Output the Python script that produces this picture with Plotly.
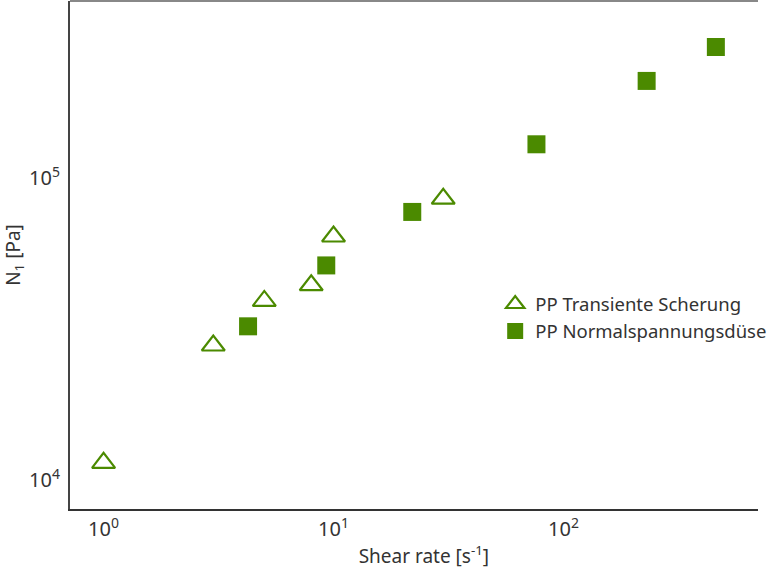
import plotly.graph_objects as go

# Data
trans_x = [1.0, 3.0, 5.0, 8.0, 10.0, 30.0]
trans_y = [11400, 27900, 39200, 44200, 64100, 85500]
duese_x = [4.25, 9.3, 22.0, 76.3, 230.0, 460.0]
duese_y = [32300, 51400, 77300, 129500, 210000, 272000]

x_tickvals = [1, 10, 100]
x_ticktext = ["10<sup>0</sup>", "10<sup>1</sup>", "10<sup>2</sup>"]
y_tickvals = [1e4, 1e5]
y_ticktext = ["10<sup>4</sup>", "10<sup>5</sup>"]

green = "#4b8a00"
font = "Noto Sans, Open Sans, sans-serif"

fig = go.Figure()
fig.add_trace(go.Scatter(
    x=trans_x, y=trans_y, mode="markers", name="PP Transiente Scherung",
    marker=dict(symbol="triangle-up-open", size=20, color=green,
                line=dict(width=2.2, color=green)),
))
fig.add_trace(go.Scatter(
    x=duese_x, y=duese_y, mode="markers", name="PP Normalspannungsdüse",
    marker=dict(symbol="square", size=18, color=green, line=dict(width=0)),
))

fig.update_layout(
    width=768, height=569,
    margin=dict(l=70, r=10, t=1, b=60, autoexpand=False),
    paper_bgcolor="white", plot_bgcolor="white",
    font=dict(family=font, size=19, color="#333333"),
    showlegend=True,
    legend=dict(x=0.618, y=0.44, xanchor="left", yanchor="top",
                bgcolor="rgba(0,0,0,0)", font=dict(size=18.5, color="#333333"),
                tracegroupgap=0, itemsizing="trace"),
)
fig.update_xaxes(
    type="log", range=[-0.146, 2.846],
    tickvals=x_tickvals, ticktext=x_ticktext,
    tickfont=dict(size=20),
    showgrid=False, zeroline=False,
    showline=True, linecolor="#333333", linewidth=2,
    ticks="", ticklabelstandoff=1,
    title=dict(text="&nbsp;&nbsp;&nbsp;&nbsp;Shear rate [s<sup>-1</sup>]", standoff=2, font=dict(size=19)),
    automargin=False,
)
fig.update_yaxes(
    type="log", range=[3.904, 5.587],
    tickvals=y_tickvals, ticktext=y_ticktext,
    tickfont=dict(size=20),
    showgrid=False, zeroline=False,
    showline=True, linecolor="#444444", linewidth=2,
    ticks="", ticklabelstandoff=4,
    title=dict(text="N<sub>1</sub> [Pa]", standoff=8, font=dict(size=19)),
    automargin=False,
)
fig.add_shape(type="line", xref="paper", yref="paper", x0=0, x1=1, y0=1, y1=1,
              line=dict(color="#888888", width=2))

fig.write_html("out.html", config={"displayModeBar": False},
               post_script="document.body.style.margin='0';")
